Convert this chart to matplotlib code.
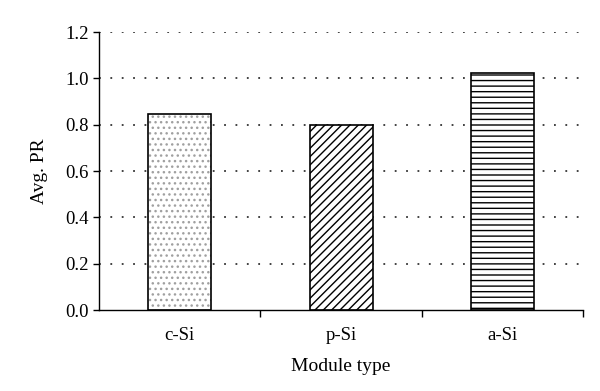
import matplotlib.pyplot as plt
import numpy as np

# данные
modules = ["c-Si", "p-Si", "a-Si"]
avg_pr = [0.845, 0.797, 1.023]
hatches = ["...", "////", "---"]
hatch_colors = ["#a0a0a0", "black", "black"]

plt.rcParams['font.family'] = ['Liberation Serif', 'DejaVu Serif']
plt.rcParams['hatch.linewidth'] = 1.0

fig = plt.figure(figsize=(6, 3.91), dpi=100)
ax = fig.add_axes([0.165, 0.207, 0.807, 0.711])

x = np.arange(len(modules))
width = 0.39

# заливка штриховкой, потом чёрный контур поверх
for i in range(len(modules)):
    ax.bar(x[i], avg_pr[i], width, color="white", edgecolor=hatch_colors[i],
           hatch=hatches[i], linewidth=0, zorder=2)
ax.bar(x, avg_pr, width, fill=False, edgecolor="black", linewidth=1.2, zorder=3)

ax.set_xlim(-0.5, 2.5)
ax.set_ylim(0, 1.2)
ax.set_yticks(np.arange(0, 1.21, 0.2))
ax.set_yticklabels([f"{v:.1f}" for v in np.arange(0, 1.21, 0.2)])
ax.set_xticks(x)
ax.set_xticklabels(modules)
ax.set_xticks([0.5, 1.5, 2.5], minor=True)
ax.tick_params(axis='x', which='major', length=0, pad=12)
ax.tick_params(axis='x', which='minor', length=5, width=1)
ax.tick_params(axis='y', length=4, width=1)
ax.tick_params(labelsize=13.5)

# пунктирная сетка, только горизонтальные линии выше нуля
for v in np.arange(0.2, 1.21, 0.2):
    ax.axhline(v, linestyle=(0, (1, 5.3)), color="#333333", linewidth=1.3, zorder=1)

ax.spines['top'].set_visible(False)
ax.spines['right'].set_visible(False)
ax.spines['left'].set_linewidth(1)
ax.spines['bottom'].set_linewidth(1)

ax.set_xlabel("Module type", fontsize=14, labelpad=10)
ax.set_ylabel("Avg. PR", fontsize=14, labelpad=12)

fig.savefig("out.png", dpi=100)
